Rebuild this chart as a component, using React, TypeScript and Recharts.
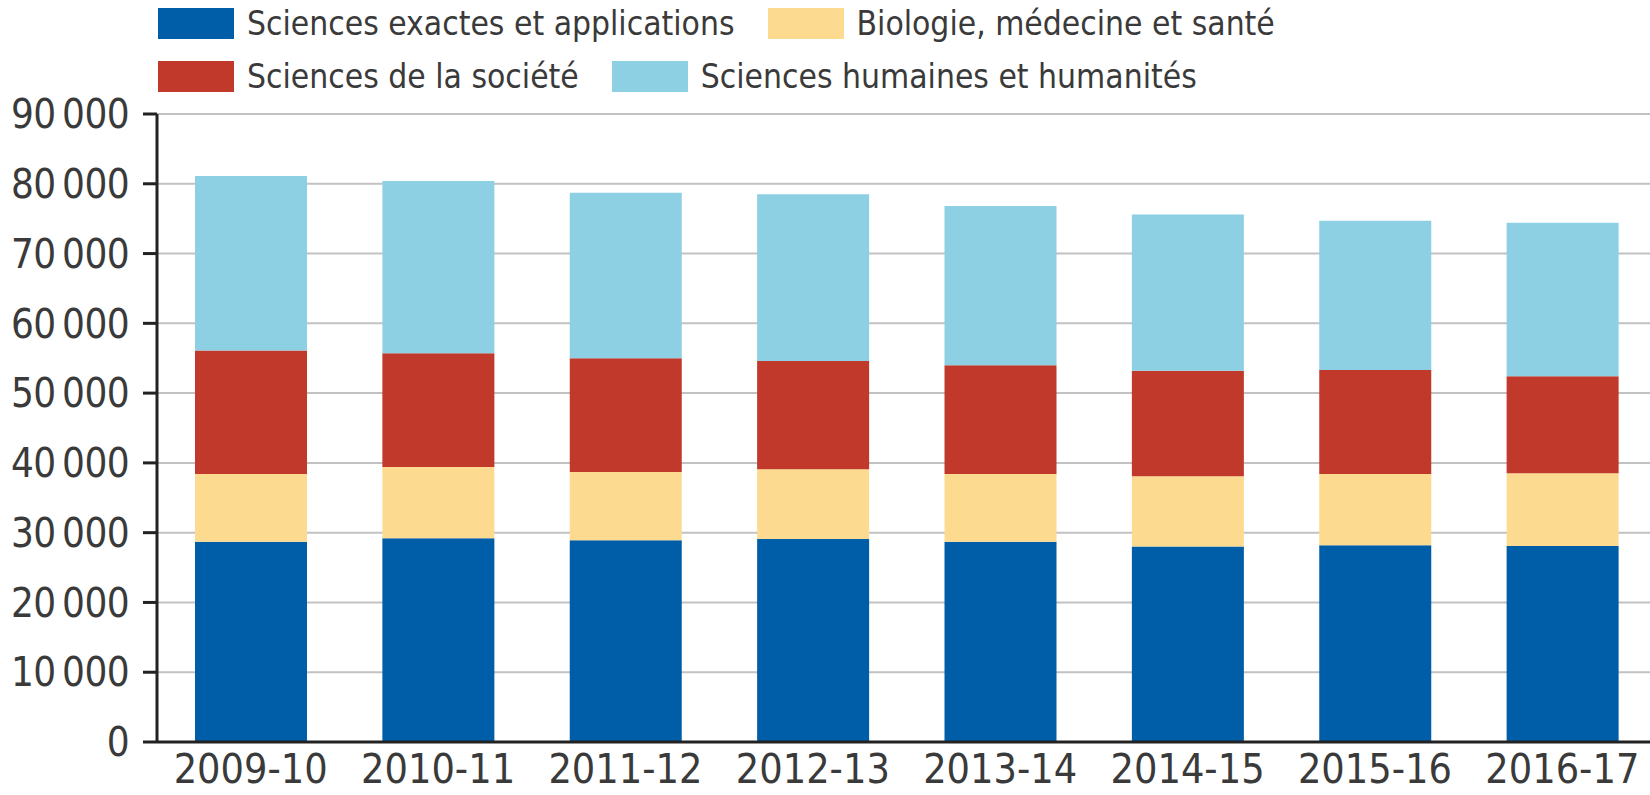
import { BarChart, Bar, XAxis, YAxis, CartesianGrid } from 'recharts';

const years = ['2009-10', '2010-11', '2011-12', '2012-13', '2013-14', '2014-15', '2015-16', '2016-17'];

const exactes = [28700, 29200, 28900, 29100, 28700, 28000, 28200, 28100];
const biologie = [9700, 10200, 9800, 10000, 9700, 10100, 10200, 10400];
const societe = [17700, 16300, 16300, 15500, 15600, 15100, 14900, 13900];
const humaines = [25000, 24700, 23700, 23900, 22800, 22400, 21400, 22000];

const yTicks = [0, 10000, 20000, 30000, 40000, 50000, 60000, 70000, 80000, 90000];

const SERIES = [
  { key: 'exactes', label: 'Sciences exactes et applications', color: '#005da8' },
  { key: 'biologie', label: 'Biologie, médecine et santé', color: '#fcdb90' },
  { key: 'societe', label: 'Sciences de la société', color: '#c0392b' },
  { key: 'humaines', label: 'Sciences humaines et humanités', color: '#8dd0e3' },
];

const FONT = "'Liberation Sans Narrow', 'DejaVu Sans Condensed', 'Roboto', sans-serif";
const TEXT = '#3a3a3a';

const data = years.map((year, i) => ({
  year,
  exactes: exactes[i],
  biologie: biologie[i],
  societe: societe[i],
  humaines: humaines[i],
}));

// 90000 -> "90 000"
const formatTick = (v: number) =>
  v === 0 ? '0' : `${Math.floor(v / 1000)}\u2009${String(v % 1000).padStart(3, '0')}`;

function LegendRows() {
  const rows = [SERIES.slice(0, 2), SERIES.slice(2, 4)];
  return (
    <div style={{ position: 'absolute', left: 158, top: 8, fontFamily: FONT, fontSize: 33.3, color: TEXT }}>
      {rows.map((row, r) => (
        <div key={r} style={{ display: 'flex', alignItems: 'center', height: 31, marginBottom: r === 0 ? 22 : 0 }}>
          {row.map((s) => (
            <div key={s.key} style={{ display: 'flex', alignItems: 'center', marginRight: 33 }}>
              <span style={{ display: 'inline-block', width: 76, height: 31, background: s.color, marginRight: 13 }} />
              <span style={{ whiteSpace: 'nowrap', lineHeight: '31px' }}>{s.label}</span>
            </div>
          ))}
        </div>
      ))}
    </div>
  );
}

export default function App() {
  return (
    <div style={{ position: 'absolute', left: 0, top: 0, width: 1650, height: 795, overflow: 'hidden', background: '#fff' }}>
      <LegendRows />
      <BarChart
        width={1656}
        height={795}
        data={data}
        margin={{ top: 114, right: 0, bottom: 0, left: 0 }}
        barSize={112}
      >
        <CartesianGrid vertical={false} stroke="#c2c2c2" strokeWidth={2} />
        <XAxis
          dataKey="year"
          height={53}
          tickLine={false}
          tickSize={0}
          tickMargin={12}
          axisLine={{ stroke: '#222', strokeWidth: 3 }}
          tick={{ fill: TEXT, fontSize: 41, fontFamily: FONT }}
        />
        <YAxis
          width={157}
          domain={[0, 90000]}
          ticks={yTicks}
          interval={0}
          tickFormatter={formatTick}
          tickSize={14}
          tickMargin={14}
          axisLine={{ stroke: '#222', strokeWidth: 3 }}
          tickLine={{ stroke: '#222', strokeWidth: 3 }}
          tick={{ fill: TEXT, fontSize: 40, fontFamily: FONT, letterSpacing: -0.6 }}
        />
        {SERIES.map((s) => (
          <Bar key={s.key} dataKey={s.key} stackId="a" fill={s.color} isAnimationActive={false} />
        ))}
      </BarChart>
    </div>
  );
}
